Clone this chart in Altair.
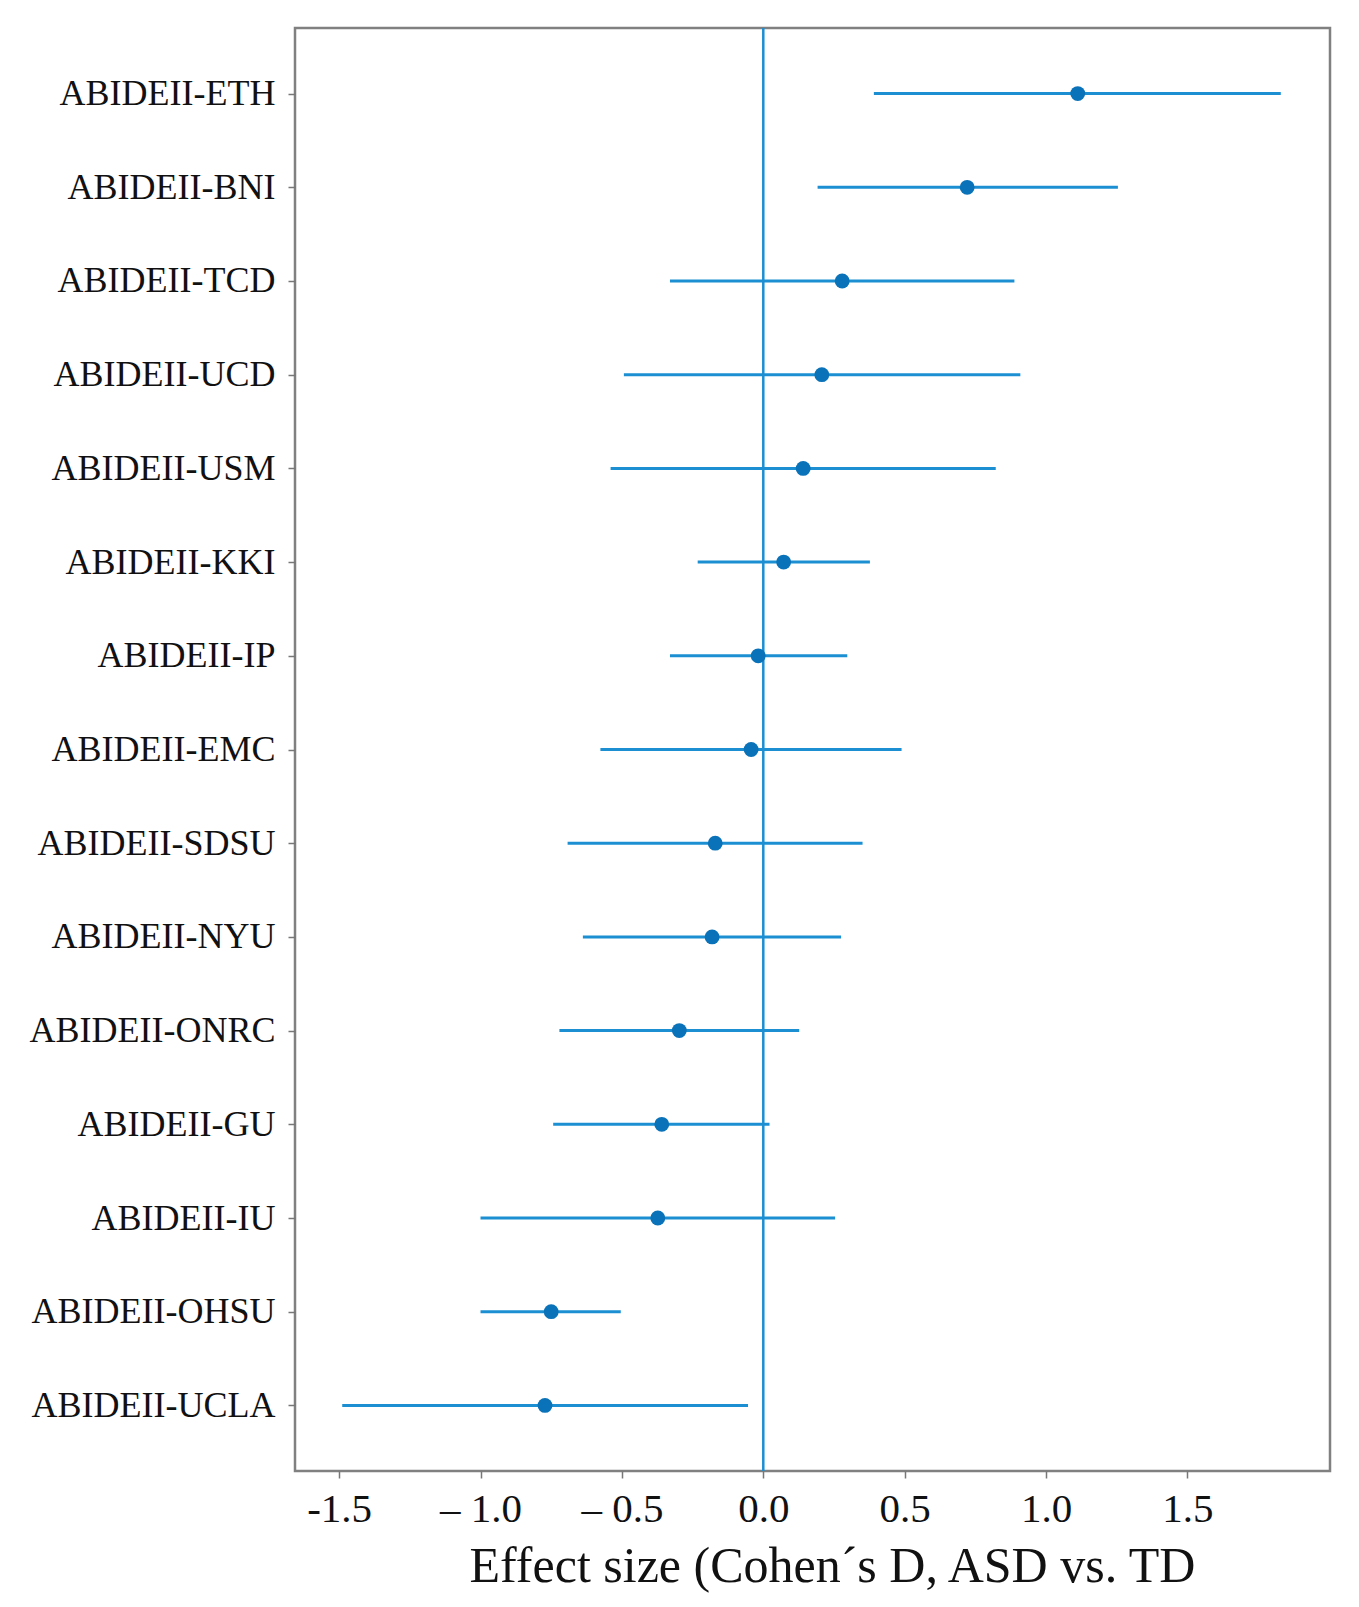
import altair as alt
import pandas as pd

sites = ["ABIDEII-ETH", "ABIDEII-BNI", "ABIDEII-TCD", "ABIDEII-UCD", "ABIDEII-USM",
         "ABIDEII-KKI", "ABIDEII-IP", "ABIDEII-EMC", "ABIDEII-SDSU", "ABIDEII-NYU",
         "ABIDEII-ONRC", "ABIDEII-GU", "ABIDEII-IU", "ABIDEII-OHSU", "ABIDEII-UCLA"]
effect = [1.112, 0.721, 0.279, 0.207, 0.141, 0.072, -0.018, -0.043, -0.170, -0.181,
          -0.297, -0.359, -0.373, -0.750, -0.772]
ci_low = [0.391, 0.192, -0.330, -0.493, -0.540, -0.232, -0.330, -0.576, -0.692, -0.638,
          -0.721, -0.743, -1.000, -1.000, -1.489]
ci_high = [1.830, 1.254, 0.888, 0.909, 0.822, 0.377, 0.297, 0.489, 0.351, 0.275,
           0.127, 0.022, 0.254, -0.504, -0.054]
x_ticks = [-1.5, -1.0, -0.5, 0.0, 0.5, 1.0, 1.5]

df = pd.DataFrame({"site": sites, "d": effect, "lo": ci_low, "hi": ci_high})

LINE = "#1b8fd2"
DOT = "#0a72b8"
FONT = "Liberation Serif"

xscale = alt.Scale(domain=[-1.656, 2.004], nice=False, zero=False)
yscale = alt.Scale(type="point", domain=sites, padding=0.7)

xaxis = alt.Axis(values=x_ticks, title="Effect size (Cohen\u00b4s D, ASD vs. TD",
                 labelExpr="datum.value < -1.2 ? '-1.5' : (datum.value < 0 ? '\u2013 ' + format(abs(datum.value), '.1f') : format(datum.value, '.1f'))",
                 grid=False, domain=False, tickColor="#777777", tickSize=7, tickWidth=1.5,
                 labelFont=FONT, labelFontSize=41, labelColor="#111111", labelPadding=11,
                 titleFont=FONT, titleFontSize=50, titleFontWeight="normal", titleColor="#111111",
                 titlePadding=12, titleX=537, titleAlign="center")
yaxis = alt.Axis(title=None, grid=False, domain=False, tickColor="#777777", tickSize=7,
                 tickWidth=1.5, labelFont=FONT, labelFontSize=36, labelColor="#111111",
                 labelPadding=13, labelLimit=0)

base = alt.Chart(df)

bars = base.mark_rule(color=LINE, strokeWidth=3).encode(
    x=alt.X("lo:Q", scale=xscale, axis=xaxis),
    x2="hi:Q",
    y=alt.Y("site:N", scale=yscale, axis=yaxis, sort=sites),
)

zero = alt.Chart(pd.DataFrame({"z": [0.0]})).mark_rule(color=LINE, strokeWidth=2.5).encode(
    x=alt.X("z:Q", scale=xscale)
)

dots = base.mark_circle(color=DOT, opacity=1, size=220).encode(
    x=alt.X("d:Q", scale=xscale),
    y=alt.Y("site:N", scale=yscale, sort=sites),
)

chart = (zero + bars + dots).properties(
    width=1035, height=1443,
    autosize=alt.AutoSizeParams(type="none"),
    padding={"left": 295, "top": 28, "right": 29, "bottom": 136},
    background="white",
).configure_view(stroke="#808080", strokeWidth=2.5)

chart.save("out.html", embed_options={"renderer": "svg", "actions": False})
